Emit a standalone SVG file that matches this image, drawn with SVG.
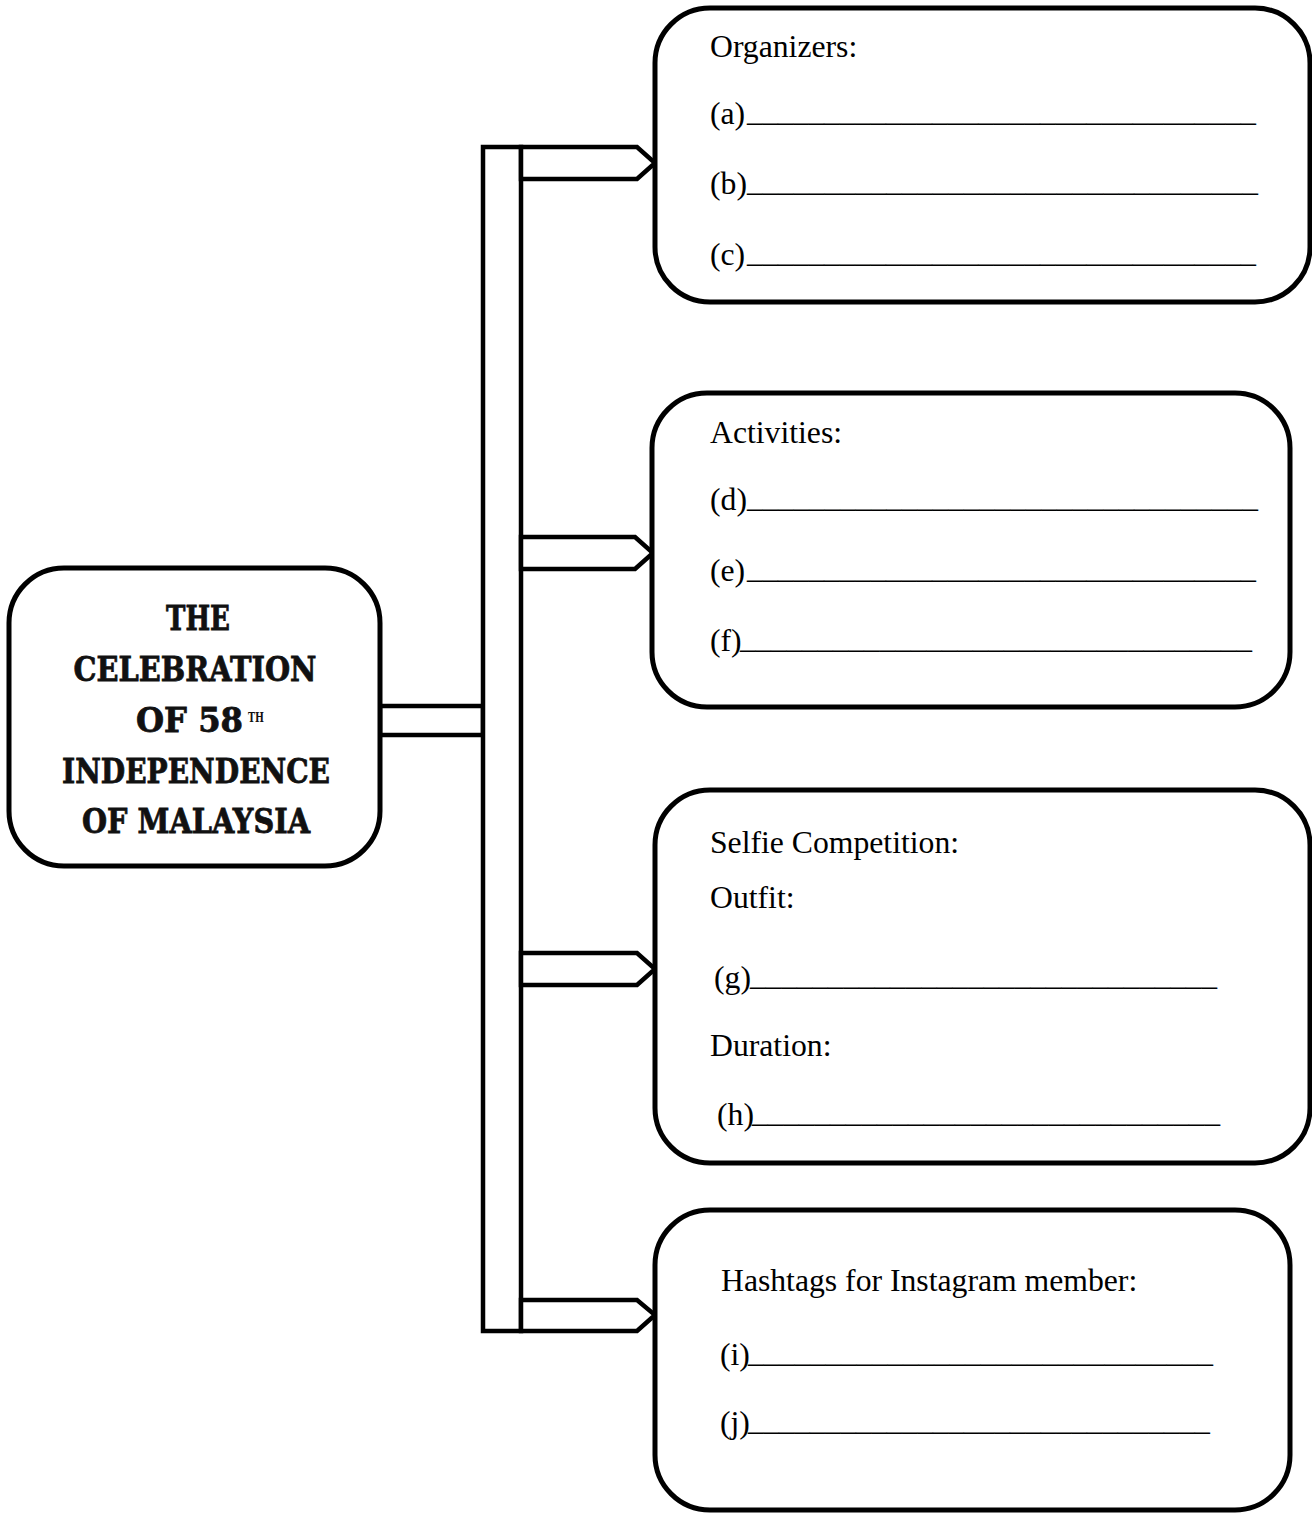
<svg xmlns="http://www.w3.org/2000/svg" width="1312" height="1514" viewBox="0 0 1312 1514">
<style>
.box{fill:#fff;stroke:#000;stroke-width:5}
.con{fill:#fff;stroke:#000;stroke-width:4.5;stroke-linejoin:miter}
.t{font-family:"Liberation Serif","Times New Roman",serif;font-size:31.7px;fill:#000}
.ttl{font-family:"DejaVu Serif","Liberation Serif",serif;font-weight:bold;font-size:33px;fill:#111;stroke:#111;stroke-width:0.8}
.sup{font-family:"DejaVu Serif","Liberation Serif",serif;font-weight:bold;font-size:13px;fill:#111}
</style>
<rect width="1312" height="1514" fill="#fff"/>
<g id="connectors">
<rect class="con" x="380" y="706" width="103" height="29"/>
<rect class="con" x="483" y="147" width="38" height="1184"/>
<polygon class="con" points="521,147 637,147 655,163 637,179 521,179"/>
<polygon class="con" points="521,537 635,537 653,553 635,569 521,569"/>
<polygon class="con" points="521,953 637,953 655,969 637,985 521,985"/>
<polygon class="con" points="521,1300 637,1300 655,1315 637,1331 521,1331"/>
</g>
<g id="main">
<rect class="box" x="9" y="568" width="371" height="298" rx="55"/>
<text class="ttl" x="198" y="630" text-anchor="middle" textLength="64" lengthAdjust="spacingAndGlyphs">THE</text>
<text class="ttl" x="195" y="681" text-anchor="middle" textLength="243" lengthAdjust="spacingAndGlyphs">CELEBRATION</text>
<text class="ttl" x="136" y="732" textLength="107" lengthAdjust="spacingAndGlyphs">OF 58</text>
<text class="sup" x="248" y="722" textLength="16" lengthAdjust="spacingAndGlyphs">TH</text>
<text class="ttl" x="196" y="783" text-anchor="middle" textLength="268" lengthAdjust="spacingAndGlyphs">INDEPENDENCE</text>
<text class="ttl" x="196" y="833" text-anchor="middle" textLength="228" lengthAdjust="spacingAndGlyphs">OF MALAYSIA</text>
</g>
<g id="organizers">
<rect class="box" x="655" y="8" width="655" height="294" rx="55"/>
<text class="t" x="710" y="57">Organizers:</text>
<text class="t" x="710" y="124">(a)</text><text class="t" x="747" y="121" textLength="509" lengthAdjust="spacingAndGlyphs">_________________________________</text>
<text class="t" x="710" y="194">(b)</text><text class="t" x="747" y="191" textLength="511" lengthAdjust="spacingAndGlyphs">_________________________________</text>
<text class="t" x="710" y="265">(c)</text><text class="t" x="747" y="262" textLength="509" lengthAdjust="spacingAndGlyphs">_________________________________</text>
</g>
<g id="activities">
<rect class="box" x="652" y="393" width="638" height="314" rx="55"/>
<text class="t" x="710" y="443">Activities:</text>
<text class="t" x="710" y="510">(d)</text><text class="t" x="747" y="507" textLength="511" lengthAdjust="spacingAndGlyphs">_________________________________</text>
<text class="t" x="710" y="581">(e)</text><text class="t" x="747" y="578" textLength="509" lengthAdjust="spacingAndGlyphs">_________________________________</text>
<text class="t" x="710" y="651">(f)</text><text class="t" x="740" y="648" textLength="512" lengthAdjust="spacingAndGlyphs">_________________________________</text>
</g>
<g id="selfie">
<rect class="box" x="655" y="790" width="655" height="373" rx="55"/>
<text class="t" x="710" y="853">Selfie Competition:</text>
<text class="t" x="710" y="908">Outfit:</text>
<text class="t" x="714" y="988">(g)</text><text class="t" x="750" y="985" textLength="467" lengthAdjust="spacingAndGlyphs">______________________________</text>
<text class="t" x="710" y="1056">Duration:</text>
<text class="t" x="717" y="1125">(h)</text><text class="t" x="752" y="1122" textLength="468" lengthAdjust="spacingAndGlyphs">______________________________</text>
</g>
<g id="hashtags">
<rect class="box" x="655" y="1210" width="635" height="300" rx="55"/>
<text class="t" x="721" y="1291">Hashtags for Instagram member:</text>
<text class="t" x="720" y="1365">(i)</text><text class="t" x="748" y="1362" textLength="465" lengthAdjust="spacingAndGlyphs">______________________________</text>
<text class="t" x="720" y="1433">(j)</text><text class="t" x="748" y="1430" textLength="462" lengthAdjust="spacingAndGlyphs">______________________________</text>
</g>
</svg>
